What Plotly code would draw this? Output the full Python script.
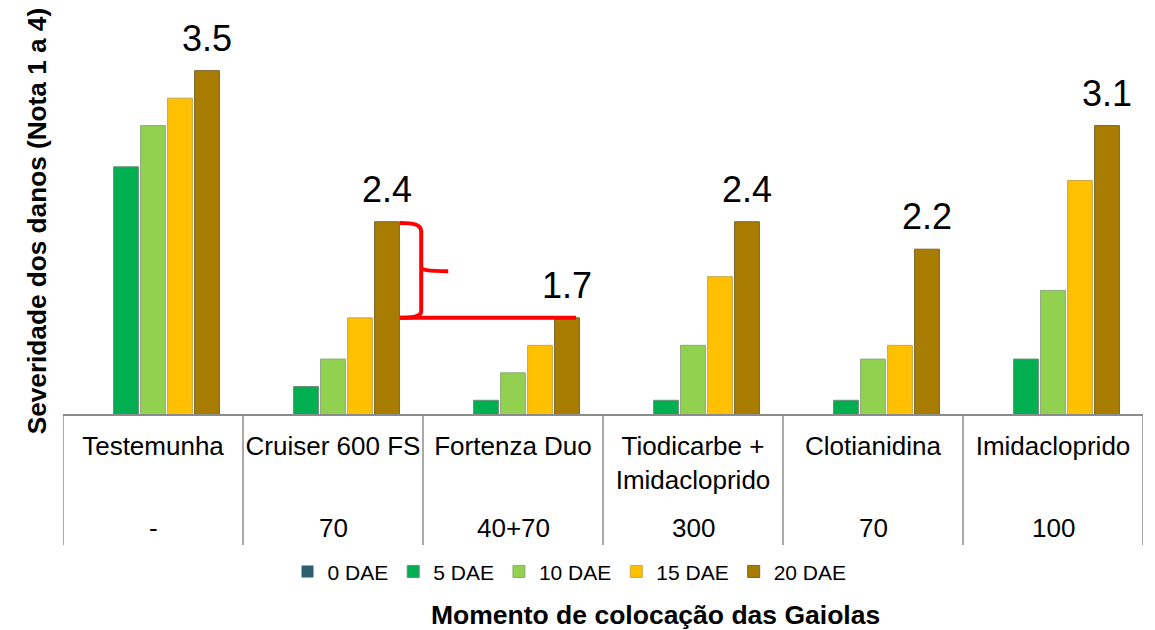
import plotly.graph_objects as go

categories = ["Testemunha", "Cruiser 600 FS", "Fortenza Duo", "Tiodicarbe +<br>Imidacloprido", "Clotianidina", "Imidacloprido"]
doses = ["-", "70", "40+70", "300", "70", "100"]
series_names = ["0 DAE", "5 DAE", "10 DAE", "15 DAE", "20 DAE"]
dae0 = [1.0, 1.0, 1.0, 1.0, 1.0, 1.0]
dae5 = [2.8, 1.2, 1.1, 1.1, 1.1, 1.4]
dae10 = [3.1, 1.4, 1.3, 1.5, 1.4, 1.9]
dae15 = [3.3, 1.7, 1.5, 2.0, 1.5, 2.7]
dae20 = [3.5, 2.4, 1.7, 2.4, 2.2, 3.1]
labelled_series = "20 DAE"
y_title = "Severidade dos danos (Nota 1 a 4)"
x_title = "Momento de colocação das Gaiolas"

series_values = [dae0, dae5, dae10, dae15, dae20]
colors = ["#2E5E72", "#00B050", "#92D050", "#FFC000", "#A87C00"]
line_colors = ["#1E3E4C", "#6A8F78", "#8FA880", "#C8A850", "#7A6430"]

FONT = "Liberation Sans, Arial, sans-serif"
BARGAP = 0.25
xs = list(range(len(categories)))
n = len(categories)
k = len(series_names)

fig = go.Figure()
for name, vals, c, lc in zip(series_names, series_values, colors, line_colors):
    fig.add_trace(go.Bar(
        x=xs, y=vals, name=name,
        marker=dict(color=c, line=dict(color=lc, width=0 if name == "0 DAE" else 1)),
        cliponaxis=False,
    ))

# value labels above the labelled series (aligned to its slot in the group)
idx = series_names.index(labelled_series)
slot = (1 - BARGAP) / k
offset = (idx - (k - 1) / 2) * slot
for i, v in enumerate(series_values[idx]):
    fig.add_annotation(x=i + offset, y=v, xref="x", yref="y", text=f"{v:.1f}",
                       showarrow=False, yanchor="bottom", yshift=10,
                       font=dict(family=FONT, size=36, color="#000000"))

# table lines under the category axis
for i in range(n + 1):
    fig.add_shape(type="line", xref="x", yref="paper", x0=i - 0.5, x1=i - 0.5,
                  y0=0, y1=-0.318, line=dict(color="#8C8C8C", width=1.5))

# dose row
for i, d in enumerate(doses):
    fig.add_annotation(x=i, y=-0.2767, xref="x", yref="paper", text=d, showarrow=False,
                       yanchor="middle", font=dict(family=FONT, size=26, color="#000000"))

# axis titles
fig.add_annotation(x=-0.024, y=0.468, xref="paper", yref="paper", text=f"<b>{y_title}</b>",
                   textangle=-90, showarrow=False, xanchor="center", yanchor="middle",
                   font=dict(family=FONT, size=26.2, color="#000000"))
fig.add_annotation(x=0.549, y=-0.488, xref="paper", yref="paper", text=f"<b>{x_title}</b>",
                   showarrow=False, xanchor="center", yanchor="middle",
                   font=dict(family=FONT, size=26.5, color="#000000"))

# red bracket annotation (difference between Cruiser and Fortenza at 20 DAE)
red = "#FF0000"
fig.add_shape(type="line", xref="x", yref="y", x0=1.372, x1=2.35, y0=1.70, y1=1.70,
              line=dict(color=red, width=4))
brace = ("M 1.372,2.39 C 1.45,2.39 1.49,2.38 1.49,2.33 "
         "L 1.49,2.07 C 1.49,2.05 1.52,2.04 1.64,2.04 "
         "M 1.49,2.07 C 1.49,2.03 1.49,2.02 1.49,2.00 "
         "L 1.49,1.75 C 1.49,1.71 1.45,1.70 1.372,1.70")
fig.add_shape(type="path", xref="x", yref="y", path=brace, line=dict(color=red, width=4))

fig.update_layout(
    width=1155, height=630,
    margin=dict(l=63, r=12, t=2, b=216, autoexpand=False),
    paper_bgcolor="white", plot_bgcolor="white",
    barmode="group", bargap=BARGAP, bargroupgap=0.08,
    font=dict(family=FONT, size=26, color="#000000"),
    showlegend=True,
    legend=dict(orientation="h", x=0.469, y=-0.383, xanchor="center", yanchor="middle",
                font=dict(family=FONT, size=21, color="#000000"), itemwidth=30,
                traceorder="normal"),
    xaxis=dict(tickmode="array", tickvals=xs, ticktext=categories, range=[-0.5, n - 0.5],
               showline=True, linecolor="#8C8C8C", linewidth=1.5, ticks="",
               showgrid=False, zeroline=False, ticklabelstandoff=8,
               tickfont=dict(family=FONT, size=26, color="#000000")),
    yaxis=dict(range=[1, 4], showticklabels=False, showgrid=False, zeroline=False,
               showline=False, ticks=""),
)

fig.write_html("out.html", config={"displayModeBar": False},
               post_script="document.body.style.margin='0';document.body.style.overflow='hidden';")
